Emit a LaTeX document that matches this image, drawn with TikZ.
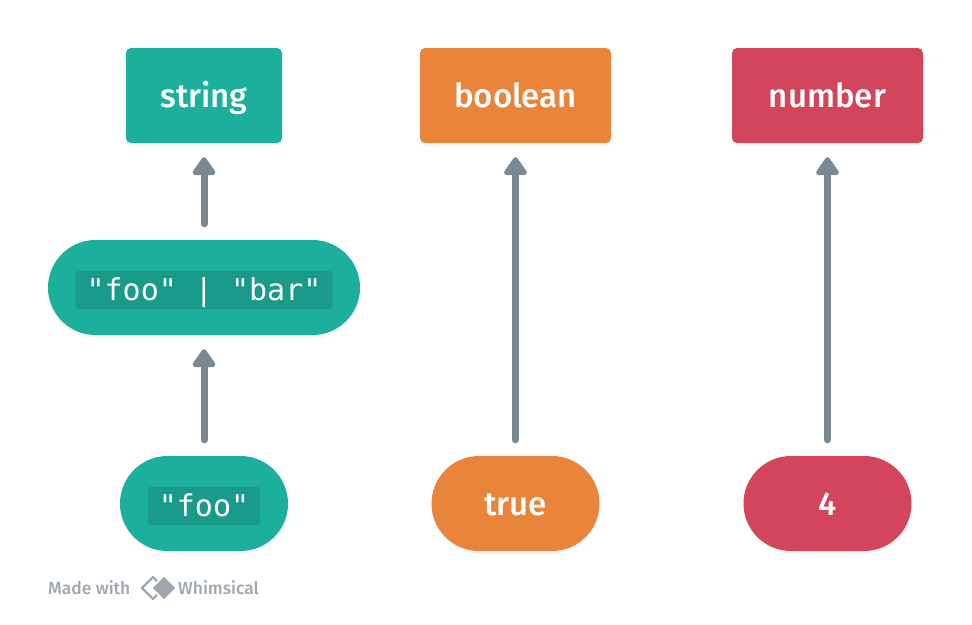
\documentclass[tikz,border=0pt]{standalone}
\usepackage{fontspec}
\setsansfont{Fira Sans}[BoldFont={Fira Sans Medium}]
\setmonofont{DejaVu Sans Mono}
\usetikzlibrary{arrows.meta,shadows}
\definecolor{tealbox}{HTML}{1BAF9C}
\definecolor{tealcode}{HTML}{199A8A}
\definecolor{orangebox}{HTML}{E8853A}
\definecolor{redbox}{HTML}{D2455A}
\definecolor{arrowgray}{HTML}{7A8894}
\definecolor{markgray}{HTML}{A0A7AF}

\begin{document}
\begin{tikzpicture}[x=1pt,y=-1pt,
    typebox/.style={rounded corners=5pt, minimum height=95pt, text=white,
      font=\sffamily\bfseries\fontsize{33}{33}\selectfont,
      text height=24pt, text depth=0pt,
      drop shadow={opacity=0.08, shadow xshift=0pt, shadow yshift=-3pt}},
    valpill/.style={typebox, rounded corners=47.5pt, minimum width=168pt},
    codebox/.style={fill=tealcode, rounded corners=3pt, text=white,
      font=\ttfamily\fontsize{30}{30}\selectfont, inner xsep=11pt,
      minimum height=38pt, text height=20pt, text depth=0pt},
    link/.style={draw=arrowgray, line width=7pt, line cap=round,
      -{Triangle[width=26pt,length=20pt,round]},
      shorten <=16pt, shorten >=14pt},
    madewith/.style={text=markgray, font=\sffamily\bfseries\fontsize{17.5}{17.5}\selectfont}]
  \useasboundingbox (0,0) rectangle (972,624);

  % type boxes
  \path
    (204,95.5) node[typebox, fill=tealbox, minimum width=156pt] (string) {string}
    (515.5,95.5) node[typebox, fill=orangebox, minimum width=191pt] (boolean) {boolean}
    (827.5,95.5) node[typebox, fill=redbox, minimum width=191pt] (number) {number}
    ;

  % union
  \path
    (204,287.5) node[valpill, fill=tealbox, minimum width=312pt] (union) {}
    (204,290) node[codebox] (unioncode) {"foo" | "bar"}
    ;

  % values
  \path
    (204,503.5) node[valpill, fill=tealbox] (foo) {}
    (204,506) node[codebox] (foocode) {"foo"}
    (515.5,503.5) node[valpill, fill=orangebox] (true) {true}
    (827.5,503.5) node[valpill, fill=redbox] (four) {4}
    ;

  \draw[link] (foo.north) -- (union.south);
  \draw[link] (union.north) -- (string.south);
  \draw[link] (true.north) -- (boolean.south);
  \draw[link] (four.north) -- (number.south);

  % made with
  \node[madewith, anchor=west, inner sep=0pt] (made) at (48,588) {Made with};
  \draw[markgray, line width=2.4pt, line join=round]
    (153,577) -- (142,588) -- (153,599) -- (164,588) -- cycle;
  \draw[fill=markgray, draw=white, line width=1.5pt, line join=round]
    (164,575.5) -- (151.5,588) -- (164,600.5) -- (176.5,588) -- cycle;
  \node[madewith, anchor=west, inner sep=0pt] (whim) at (178,588) {Whimsical};
\end{tikzpicture}
\end{document}
